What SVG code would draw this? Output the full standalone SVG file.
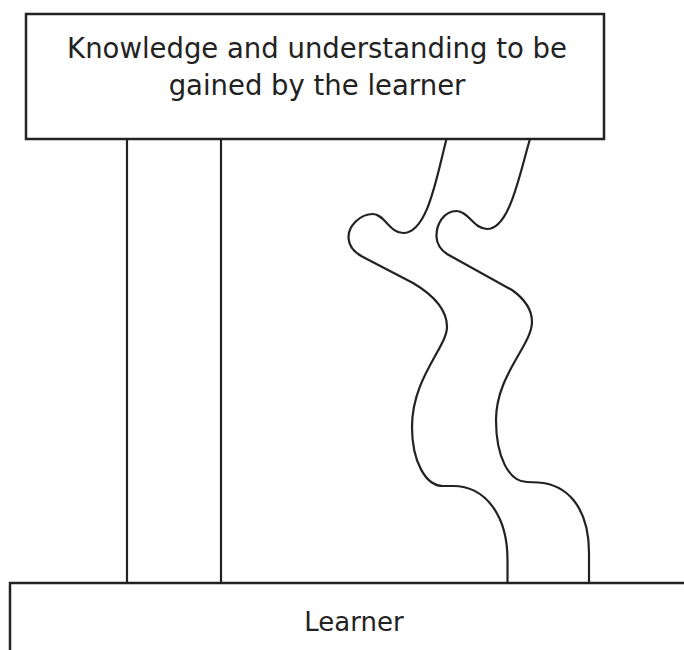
<svg xmlns="http://www.w3.org/2000/svg" width="684" height="650" viewBox="0 0 684 650">
  <style>
    .box { fill: #ffffff; stroke: #222222; stroke-width: 2.5; }
    .link { fill: none; stroke: #222222; stroke-width: 2.2; stroke-linejoin: round; stroke-linecap: butt; }
    .label { font-family: "DejaVu Sans", "Liberation Sans", sans-serif; font-size: 27.5px; fill: #222222; text-anchor: middle; }
    .small { font-size: 26px; }
  </style>
  <rect width="684" height="650" fill="#ffffff"/>

  <!-- connectors: two straight uprights and two winding paths -->
  <g id="connectors">
    <line class="link" x1="127" y1="139" x2="127" y2="583"/>
    <line class="link" x1="221" y1="139" x2="221" y2="583"/>
    <path class="link" d="M 446.5 139 C 437 175, 428 233, 403 233 C 390 233, 384 214, 373 214 C 360 214, 348 226, 348.5 238 C 349 248, 355 253, 363 257 L 413 283 C 435 296, 447 311, 447 327 C 447 347, 412 378, 412 427 C 412 462, 426 486, 443 486 L 453 486 C 485 486, 507.5 515, 507.5 560 L 507.5 583"/>
    <path class="link" d="M 530 139 C 520 172, 510 229, 487 229 C 474 229, 468 211, 456.5 211 C 444 211, 436 224, 436.5 237 C 437 245, 441 250, 447 254 L 512 290 C 526 300, 532 310, 532 322 C 532 345, 496 375, 496 420 C 496 457, 509 482, 527 482 L 538 482.5 C 565 484, 589 505, 589 553 L 589 583"/>
  </g>

  <g id="goal">
    <rect class="box" x="26" y="14" width="578" height="125"/>
    <text class="label" x="317" y="58">Knowledge and understanding to be</text>
    <text class="label" x="317" y="94.5">gained by the learner</text>
  </g>

  <g id="learner">
    <rect class="box" x="10" y="583" width="690" height="80"/>
    <text class="label small" x="354" y="631">Learner</text>
  </g>
</svg>
